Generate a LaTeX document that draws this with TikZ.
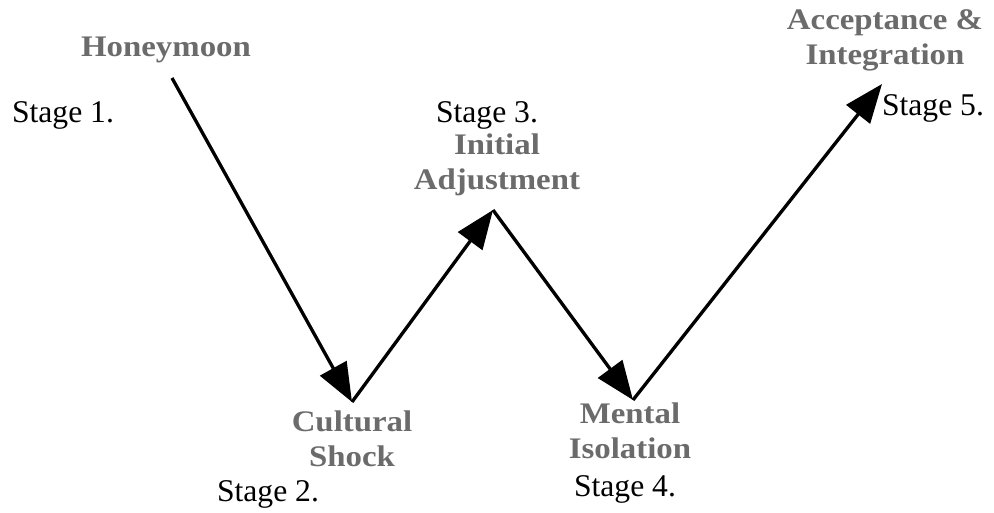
\documentclass[tikz,border=0pt]{standalone}
\usepackage{fontspec}
\setmainfont{Liberation Serif}
\usetikzlibrary{positioning, arrows.meta}

\begin{document}
\begin{tikzpicture}[x=0.02cm, y=-0.02cm, inner sep=0pt,
      phase/.style={font=\fontsize{17}{20}\selectfont\bfseries, text=black!58, align=center, xscale=1.1},
      stagelbl/.style={font=\fontsize{18}{21}\selectfont, text=black},
      stagearrow/.style={line width=1.9pt, -{Triangle[length=22pt, width=17pt]}}]
      \useasboundingbox (0,0) rectangle (994,513);
      % turning points of the curve
      \coordinate (p_1) at (172,78);
      \coordinate (p_2) at (352,402);
      \coordinate (p_3) at (493,210);
      \coordinate (p_4) at (633,400);
      \coordinate (p_5) at (882,84);
      % stage 1
      \node[phase] (honeymoon) at (166,50) {Honeymoon};
      \node[stagelbl] (s_1) at (63,115) {Stage 1.};
      % stage 2
      \node[phase] (shock) at (352,439) {Cultural\\Shock};
      \node[stagelbl] (s_2) at (268,494) {Stage 2.};
      % stage 3
      \node[stagelbl] (s_3) at (487,115) {Stage 3.};
      \node[phase] (adjust) at (497,165) {Initial\\Adjustment};
      % stage 4
      \node[phase] (isolation) at (630,431) {Mental\\Isolation};
      \node[stagelbl] (s_4) at (625,489) {Stage 4.};
      % stage 5
      \node[phase] (accept) at (885,40) {Acceptance \&\\Integration};
      \node[stagelbl] (s_5) at (933,108) {Stage 5.};
      % arrows
      \draw[stagearrow] (p_1) -- (p_2);
      \draw[stagearrow] (p_2) -- (p_3);
      \draw[stagearrow] (p_3) -- (p_4);
      \draw[stagearrow] (p_4) -- (p_5);
\end{tikzpicture}
\end{document}
